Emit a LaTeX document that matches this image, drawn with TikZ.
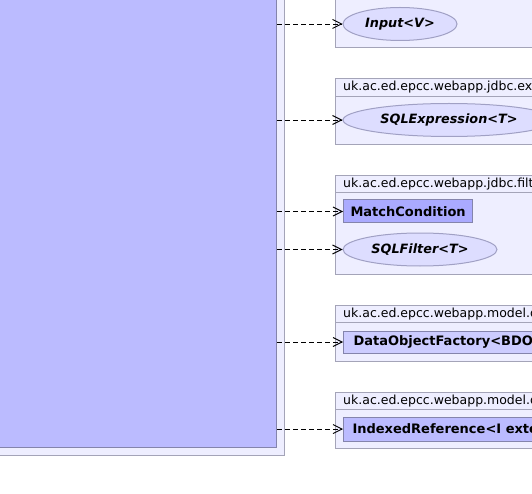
\documentclass[tikz,border=0pt]{standalone}
\usepackage{fontspec}
\setmainfont{DejaVu Sans}
\usetikzlibrary{arrows.meta,shapes.geometric}
\definecolor{pkgfill}{HTML}{EEEEFF}
\definecolor{pkgline}{HTML}{A4A4B8}
\definecolor{mainfill}{HTML}{BBBBFF}
\definecolor{classline}{HTML}{8484AC}
\definecolor{ellfill}{HTML}{DDDDFF}
\definecolor{ellline}{HTML}{A0A0C4}
\definecolor{ifill}{HTML}{AAAAFF}
\definecolor{dfill}{HTML}{CCCCFF}
\tikzset{
  pkgbox/.style={draw=pkgline, fill=pkgfill, line width=1pt, inner sep=0pt, minimum width=300pt},
  pkglabel/.style={anchor=west, inner sep=0pt, font=\fontsize{12.5}{14}\selectfont},
  classbox/.style={draw=classline, line width=1pt, inner xsep=7pt, inner ysep=0pt, minimum height=23pt, anchor=west, font=\fontsize{13}{15}\selectfont\bfseries},
  ifacell/.style={ellipse, draw=ellline, fill=ellfill, line width=1pt, inner sep=0pt, minimum height=33pt, font=\fontsize{12.8}{15}\selectfont\bfseries\itshape},
  dep/.style={dash pattern=on 5pt off 3pt, line width=0.9pt, -{Straight Barb[length=9pt,width=9pt,line width=0.9pt]}}
}
\begin{document}
\begin{tikzpicture}[x=1pt,y=-1pt]
\useasboundingbox (0,0) rectangle (532,494);
\clip (0,0) rectangle (532,494);
% left package and main class
\node[pkgbox, anchor=south east, minimum width=320pt, minimum height=500pt] (lpkg) at (285,456) {};
\node[draw=classline, fill=mainfill, line width=1pt, inner sep=0pt, anchor=south east, minimum width=310pt, minimum height=490pt] (main) at (277,448) {};
% package 1
\node[pkgbox, anchor=south west, minimum height=80pt] (p1) at (335,48) {};
\node[ifacell, minimum width=114pt] (inp) at (400,24) {Input<V>};
% package 2
\node[pkgbox, anchor=north west, minimum height=66pt] (p2) at (335,78) {};
\draw[pkgline, line width=1pt] (335,96.5) -- (640,96.5);
\node[pkglabel] (l2) at (343,87.5) {uk.ac.ed.epcc.webapp.jdbc.expr};
\node[ifacell, minimum width=212pt] (sqle) at (449,120) {SQLExpression<T>};
% package 3
\node[pkgbox, anchor=north west, minimum height=99pt] (p3) at (335,175) {};
\draw[pkgline, line width=1pt] (335,193) -- (640,193);
\node[pkglabel] (l3) at (343,184) {uk.ac.ed.epcc.webapp.jdbc.filter};
\node[classbox, fill=ifill, minimum width=128pt] (mc) at (343,211.5) {MatchCondition};
\node[ifacell, minimum width=154pt] (sqlf) at (420,249.5) {SQLFilter<T>};
% package 4
\node[pkgbox, anchor=north west, minimum height=56pt] (p4) at (335,305) {};
\draw[pkgline, line width=1pt] (335,322.5) -- (640,322.5);
\node[pkglabel] (l4) at (343,314) {uk.ac.ed.epcc.webapp.model.data};
\node[classbox, fill=dfill, inner xsep=10pt, minimum height=22pt] (dof) at (343,342) {DataObjectFactory<BDO extends DataObject>};
% package 5
\node[pkgbox, anchor=north west, minimum height=56pt] (p5) at (335,392) {};
\draw[pkgline, line width=1pt] (335,409.5) -- (640,409.5);
\node[pkglabel] (l5) at (343,401) {uk.ac.ed.epcc.webapp.model.data};
\node[classbox, fill=mainfill, inner xsep=9pt, minimum height=24pt] (ir) at (343,429) {IndexedReference<I extends Indexed>};
% dependencies
\draw[dep] (main.east |- inp.west) -- (inp.west);
\draw[dep] (main.east |- sqle.west) -- (sqle.west);
\draw[dep] (main.east |- mc.west) -- (mc.west);
\draw[dep] (main.east |- sqlf.west) -- (sqlf.west);
\draw[dep] (main.east |- dof.west) -- (dof.west);
\draw[dep] (main.east |- ir.west) -- (ir.west);
\end{tikzpicture}
\end{document}
